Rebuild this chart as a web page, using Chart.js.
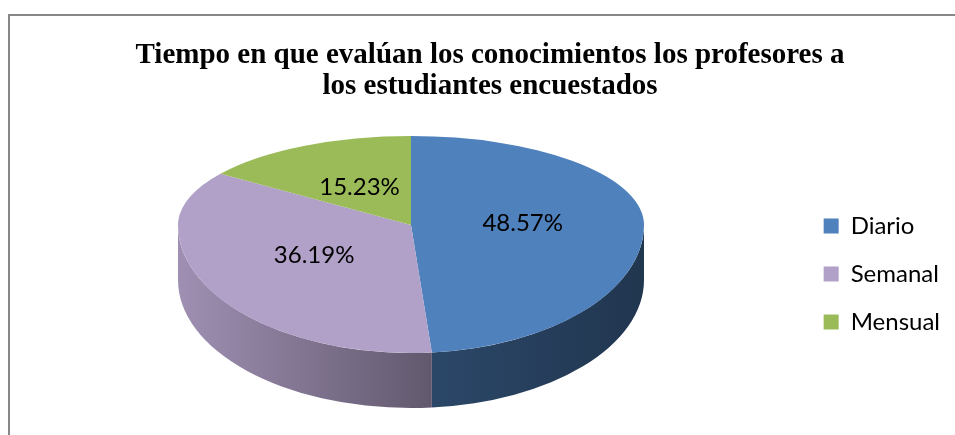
<!DOCTYPE html>
<html><head><meta charset="utf-8">
<script src="https://cdn.jsdelivr.net/npm/chart.js@4.4.0/dist/chart.umd.min.js"></script>
<style>html,body{margin:0;padding:0;background:#fff;overflow:hidden}
#wrap{position:relative;width:955px;height:435px}</style>
</head><body><div id="wrap"><canvas id="c" width="955" height="435"></canvas></div>
<script>
// ---- data ----
const categories = ['Diario', 'Semanal', 'Mensual'];
const percentages = [48.57, 36.19, 15.23];
const titleLines = ['Tiempo en que evalúan los conocimientos los profesores a', 'los estudiantes encuestados'];

// ---- style ----
const topColors = ['#4F81BD', '#B1A0C7', '#9BBB59'];
const GEO = {cx: 411, cy: 225, rx: 233, ryTop: 89, ryBottom: 128, depth: 55};

function shade(hex, f) {
  const n = parseInt(hex.slice(1), 16);
  const r = (n >> 16) & 255, g = (n >> 8) & 255, b = n & 255;
  return `rgb(${Math.round(r*f)},${Math.round(g*f)},${Math.round(b*f)})`;
}

const pie3d = {
  id: 'pie3d',
  beforeDraw(chart) {
    const ctx = chart.ctx;
    ctx.save();
    ctx.fillStyle = '#fff';
    ctx.fillRect(0, 0, chart.width, chart.height);
    ctx.fillStyle = '#878787';
    ctx.fillRect(8, 14, 2, chart.height - 14);
    ctx.fillRect(8, 14, chart.width - 8, 2);
    ctx.restore();
  },
  beforeDatasetsDraw(chart) {
    const ctx = chart.ctx;
    const arcs = chart.getDatasetMeta(0).data;
    const {cx, cy, rx, ryTop, ryBottom, depth} = GEO;
    // side walls
    arcs.forEach((arc, i) => {
      const {startAngle, endAngle} = arc.getProps(['startAngle', 'endAngle'], true);
      const c = topColors[i];
      for (const base of [0, 2 * Math.PI]) {
        const a0 = Math.max(startAngle, base), a1 = Math.min(endAngle, base + Math.PI);
        if (a1 <= a0) continue;
        const g = ctx.createLinearGradient(cx - rx, 0, cx + rx, 0);
        g.addColorStop(0, shade(c, 0.9));
        g.addColorStop(0.55, shade(c, 0.55));
        g.addColorStop(1, shade(c, 0.42));
        ctx.save();
        ctx.beginPath();
        ctx.ellipse(cx, cy, rx, ryBottom, 0, a0, a1);
        ctx.ellipse(cx, cy + depth, rx, ryBottom, 0, a1, a0, true);
        ctx.closePath();
        ctx.fillStyle = g;
        ctx.fill();
        ctx.restore();
      }
    });
    // top face (two halves for perspective)
    const halves = [[0, cy + 1, ryTop], [cy, chart.height, ryBottom]];
    for (const [y0, y1, ry] of halves) {
      ctx.save();
      ctx.beginPath();
      ctx.rect(0, y0, chart.width, y1 - y0);
      ctx.clip();
      arcs.forEach(arc => {
        const {x, y, outerRadius} = arc.getProps(['x', 'y', 'outerRadius'], true);
        ctx.save();
        ctx.translate(cx, cy);
        ctx.scale(rx / outerRadius, ry / outerRadius);
        ctx.translate(-x, -y);
        arc.draw(ctx);
        ctx.restore();
      });
      ctx.restore();
    }
    return false;
  },
  afterDraw(chart) {
    const ctx = chart.ctx;
    const arcs = chart.getDatasetMeta(0).data;
    const {cx, cy, rx, ryTop, ryBottom} = GEO;
    ctx.save();
    ctx.font = '24px Lato';
    ctx.fillStyle = '#000';
    ctx.textAlign = 'center';
    ctx.textBaseline = 'middle';
    arcs.forEach((arc, i) => {
      const {startAngle, endAngle} = arc.getProps(['startAngle', 'endAngle'], true);
      const mid = (startAngle + endAngle) / 2;
      const dx = Math.cos(mid), dy = Math.sin(mid);
      const ry = dy < 0 ? ryTop : ryBottom;
      const f = 0.48;
      ctx.fillText(percentages[i].toFixed(2) + '%', cx + f * rx * dx, cy + f * ry * dy);
    });
    ctx.restore();
  }
};

Chart.defaults.color = '#000';
new Chart(document.getElementById('c'), {
  type: 'pie',
  data: {
    labels: categories,
    datasets: [{
      data: percentages,
      backgroundColor: topColors,
      borderWidth: 0,
      hoverOffset: 0
    }]
  },
  options: {
    responsive: false,
    animation: false,
    events: [],
    layout: {padding: {left: 30, right: 5, top: 0, bottom: 77}},
    plugins: {
      title: {
        display: true,
        text: titleLines,
        color: '#000',
        font: {family: 'Liberation Serif', size: 29, weight: 'bold', lineHeight: 1.07},
        padding: {top: 40, bottom: 10}
      },
      legend: {
        display: true,
        position: 'right',
        align: 'end',
        labels: {
          boxWidth: 15,
          boxHeight: 15,
          padding: 24,
          color: '#000',
          font: {family: 'Lato', size: 24}
        }
      },
      tooltip: {enabled: false}
    }
  },
  plugins: [pie3d]
});
</script></body></html>
